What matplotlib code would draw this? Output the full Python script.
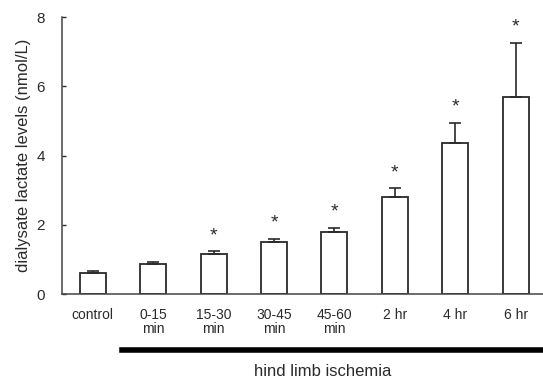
#! /usr/bin/env python3

"Dialysate lactate levels during hind limb ischemia, bar chart with SEM caps"

import numpy as np
import matplotlib
matplotlib.use("Agg")
import matplotlib.pyplot as plt

labels = ["control", "0-15\nmin", "15-30\nmin", "30-45\nmin", "45-60\nmin",
          "2 hr", "4 hr", "6 hr"]
lactate = [0.60, 0.86, 1.15, 1.50, 1.78, 2.80, 4.35, 5.70]
sem = [0.06, 0.07, 0.08, 0.09, 0.13, 0.25, 0.60, 1.55]
significant = [False, False, True, True, True, True, True, True]

plt.rcParams["font.family"] = ["Liberation Sans", "DejaVu Sans"]
ink = "#2a2a2a"

fig = plt.figure(figsize=(5.43, 3.78), dpi=100)
ax = fig.add_axes([0.114, 0.222, 0.886, 0.733])

x = np.arange(len(labels))
ax.bar(x, lactate, width=0.43, color="white", edgecolor=ink, linewidth=1.3,
       yerr=[np.zeros(len(sem)), sem],
       error_kw=dict(ecolor=ink, elinewidth=1.2, capsize=4, capthick=1.2))

for xi, v, e, s in zip(x, lactate, sem, significant):
    if s:
        ax.text(xi, v + e + 0.45, "*", ha="center", va="center",
                fontsize=14, color=ink)

ax.set_xlim(-0.51, 7.45)
ax.set_ylim(0, 8)
ax.set_yticks([0, 2, 4, 6, 8])
ax.set_xticks(x)
ax.set_xticklabels(labels, fontsize=10, color=ink, linespacing=1.0)
ax.tick_params(axis="x", length=0, pad=10)
ax.tick_params(axis="y", direction="in", length=3, width=1, labelsize=11,
               colors=ink, pad=12)
ax.set_ylabel("dialysate lactate levels (nmol/L)", fontsize=12, color=ink,
              labelpad=4)

for side in ["top", "right"]:
    ax.spines[side].set_visible(False)
for side in ["left", "bottom"]:
    ax.spines[side].set_color("#444444")
    ax.spines[side].set_linewidth(1.1)

# thick bar marking the ischemia period
fig.add_artist(plt.Line2D([122 / 543, 1.0], [1 - 350 / 378, 1 - 350 / 378],
                          color="black", linewidth=4, transform=fig.transFigure))
fig.text(323 / 543, 1 - 371 / 378, "hind limb ischemia", ha="center",
         va="center", fontsize=12, color=ink)

fig.savefig("out.png", dpi=100)
